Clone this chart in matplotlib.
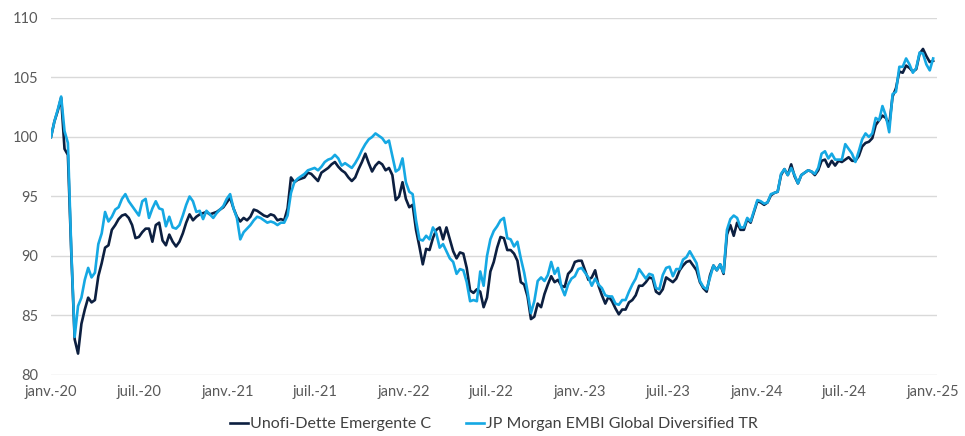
import matplotlib
matplotlib.use("Agg")
import matplotlib.pyplot as plt
import matplotlib.dates as mdates
import pandas as pd

# Weekly observations, Jan 2020 -> Jan 2025 (index base 100)
start_date = "2020-01-01"
n_weeks = 262

embi = [
    100.0, 101.3, 102.3, 103.4, 100.5, 99.5, 90.5, 83.2, 85.8, 86.5,
    88.0, 89.0, 88.2, 88.6, 91.0, 91.9, 93.7, 92.9, 93.3, 93.9,
    94.1, 94.8, 95.2, 94.6, 94.2, 93.8, 93.4, 94.6, 94.8, 93.2,
    94.0, 94.6, 94.0, 93.9, 92.5, 93.3, 92.4, 92.3, 92.6, 93.4,
    94.3, 95.0, 94.6, 93.7, 93.8, 93.1, 93.8, 93.5, 93.2, 93.6,
    93.9, 94.2, 94.8, 95.2, 94.0, 93.2, 91.4, 92.0, 92.3, 92.6,
    93.0, 93.3, 93.2, 93.0, 92.8, 92.9, 92.8, 92.6, 92.8, 92.8,
    93.4, 95.3, 96.2, 96.5, 96.7, 96.9, 97.2, 97.3, 97.4, 97.2,
    97.5, 97.9, 98.1, 98.2, 98.5, 98.2, 97.6, 97.8, 97.6, 97.4,
    97.8, 98.3, 98.9, 99.4, 99.8, 100.0, 100.3, 100.1, 99.9, 99.5,
    99.7, 98.4, 97.1, 97.3, 98.2, 96.2, 95.4, 95.2, 93.0, 91.4,
    91.3, 91.7, 91.4, 92.4, 91.9, 90.7, 91.0, 90.4, 89.8, 89.5,
    88.5, 88.9, 88.8, 87.8, 86.2, 86.3, 86.2, 88.7, 87.5, 90.0,
    91.4, 92.1, 92.5, 93.0, 93.2, 91.5, 91.4, 90.8, 91.2, 89.8,
    88.6, 87.0, 85.2, 86.2, 87.9, 88.2, 87.9, 88.4, 89.5, 88.5,
    89.0, 87.4, 86.7, 87.6, 88.1, 88.3, 88.9, 89.0, 88.6, 88.2,
    87.5, 88.1, 87.6, 87.3, 86.7, 86.6, 86.6, 86.0, 85.9, 86.3,
    86.3, 87.0, 87.6, 88.1, 88.9, 88.5, 88.1, 88.5, 88.4, 87.3,
    87.2, 88.4, 89.0, 89.1, 88.3, 88.9, 88.9, 89.7, 89.9, 90.4,
    89.9, 89.4, 87.9, 87.4, 87.2, 88.2, 89.2, 88.8, 89.3, 88.6,
    92.2, 93.1, 93.4, 93.2, 92.4, 92.4, 93.2, 92.9, 93.8, 94.7,
    94.6, 94.4, 94.5, 95.2, 95.3, 95.4, 96.9, 97.3, 96.8, 97.4,
    96.8, 96.1, 96.8, 97.0, 97.2, 97.1, 96.9, 97.4, 98.6, 98.8,
    98.2, 98.6, 98.1, 98.1, 98.1, 99.4, 99.0, 98.6, 97.9, 98.8,
    99.8, 100.3, 100.0, 100.3, 101.6, 101.4, 102.6, 101.8, 100.4, 103.6,
    103.8, 105.9, 105.9, 106.6, 106.1, 105.4, 105.8, 107.1, 107.0, 106.1,
    105.6, 106.6,
]

unofi = [
    100.0, 101.3, 102.2, 103.3, 99.0, 98.5, 90.3, 83.0, 81.8, 84.3,
    85.5, 86.5, 86.1, 86.3, 88.3, 89.4, 90.7, 90.9, 92.2, 92.6,
    93.1, 93.4, 93.5, 93.2, 92.6, 91.5, 91.6, 92.0, 92.3, 92.3,
    91.2, 92.6, 92.8, 91.3, 90.9, 91.8, 91.2, 90.8, 91.2, 91.9,
    92.8, 93.5, 93.0, 93.3, 93.5, 93.6, 93.7, 93.5, 93.6, 93.7,
    93.9, 94.1, 94.5, 94.9, 94.0, 93.3, 92.9, 93.2, 93.0, 93.3,
    93.9, 93.8, 93.6, 93.4, 93.3, 93.5, 93.4, 93.0, 93.1, 93.0,
    94.0, 96.6, 96.2, 96.4, 96.5, 96.6, 97.0, 96.9, 96.6, 96.3,
    97.0, 97.2, 97.4, 97.7, 97.9, 97.5, 97.2, 97.0, 96.6, 96.3,
    96.6, 97.3, 97.9, 98.6, 97.8, 97.1, 97.6, 97.9, 97.7, 97.2,
    97.4, 96.8, 94.7, 95.0, 96.2, 94.8, 94.1, 94.3, 92.2, 90.8,
    89.3, 90.6, 90.5, 91.5, 92.2, 92.4, 91.4, 92.4, 91.4, 90.4,
    89.8, 90.3, 90.2, 89.0, 87.1, 86.9, 87.2, 87.0, 85.7, 86.5,
    88.7, 89.5, 90.7, 91.6, 91.5, 90.5, 90.5, 90.2, 89.6, 87.8,
    87.6, 86.6, 84.7, 84.9, 86.0, 85.7, 86.8, 87.6, 88.3, 87.8,
    88.0, 87.5, 87.4, 88.5, 88.8, 89.5, 89.6, 89.6, 88.8, 88.0,
    88.2, 88.8, 87.5, 86.7, 86.0, 86.6, 86.2, 85.6, 85.1, 85.5,
    85.5, 86.1, 86.3, 86.7, 87.5, 87.5, 87.8, 88.2, 88.1, 87.0,
    86.8, 87.2, 88.2, 88.0, 87.8, 88.1, 88.8, 89.2, 89.5, 89.6,
    89.2, 88.8, 87.8, 87.3, 87.0, 88.4, 89.2, 88.8, 89.3, 88.5,
    91.8, 92.6, 91.7, 92.8, 92.2, 92.2, 93.1, 92.8, 93.7, 94.6,
    94.5, 94.3, 94.5, 95.1, 95.3, 95.4, 96.8, 97.3, 96.8, 97.7,
    96.7, 96.1, 96.8, 97.0, 97.2, 97.1, 96.8, 97.2, 98.0, 98.1,
    97.5, 98.0, 97.6, 98.0, 97.9, 98.1, 98.3, 98.0, 98.0, 98.4,
    99.2, 99.5, 99.6, 99.9, 101.0, 101.4, 101.8, 101.6, 101.0, 103.4,
    104.1, 105.5, 105.4, 106.0, 105.8, 105.5, 105.7, 107.0, 107.4, 106.8,
    106.3, 106.4,
]

series_names = ["Unofi-Dette Emergente C", "JP Morgan EMBI Global Diversified TR"]
series_colors = ["#0c1f40", "#15a8e3"]

y_ticks = [80, 85, 90, 95, 100, 105, 110]
month_fr = {1: "janv.", 7: "juil."}

dates = pd.date_range(start_date, periods=n_weeks, freq="7D")

plt.rcParams["font.family"] = ["Lato", "DejaVu Sans"]

fig = plt.figure(figsize=(9.65, 4.36), dpi=100)
ax = fig.add_axes([51 / 965, 61 / 436, 886 / 965, 357 / 436])

ax.plot(dates, unofi, color=series_colors[0], lw=1.9, label=series_names[0], zorder=3)
ax.plot(dates, embi, color=series_colors[1], lw=1.9, label=series_names[1], zorder=4)

ax.set_ylim(80, 110)
ax.set_yticks(y_ticks)
ax.set_xlim(pd.Timestamp("2020-01-01"), pd.Timestamp("2025-01-09"))

tick_dates = pd.date_range("2020-01-01", "2025-01-01", freq="6MS")
ax.set_xticks(tick_dates)
ax.set_xticklabels([f"{month_fr[d.month]}-{d.year % 100:02d}" for d in tick_dates])

ax.grid(axis="y", color="#d9d9d9", lw=1.0)
ax.set_axisbelow(True)
for s in ax.spines.values():
    s.set_visible(False)
ax.tick_params(axis="both", length=0, colors="#595959", labelsize=10.5)
ax.tick_params(axis="y", pad=9)
ax.tick_params(axis="x", pad=7)

leg = ax.legend(loc="upper center", bbox_to_anchor=(0.5, -0.1), ncol=2, frameon=False,
                handlelength=1.1, handletextpad=0.15, columnspacing=2.2,
                fontsize=11.5, borderaxespad=0)
for t in leg.get_texts():
    t.set_color("#404040")

fig.savefig("out.png", dpi=100)
